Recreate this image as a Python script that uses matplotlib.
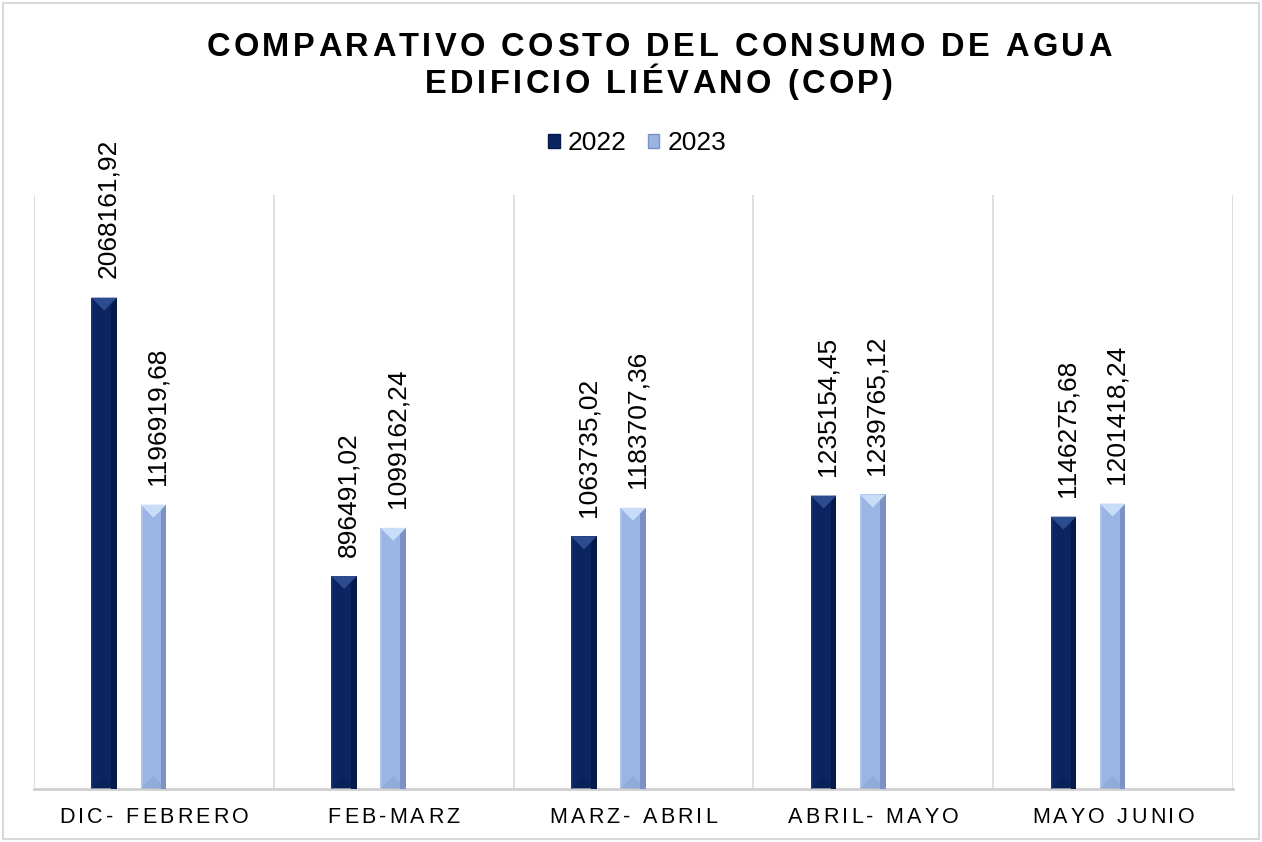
import numpy as np
import matplotlib
matplotlib.use('Agg')
import matplotlib.pyplot as plt
from matplotlib.patches import Polygon, Rectangle, Patch
from matplotlib.font_manager import FontProperties, findfont
from matplotlib.ft2font import FT2Font, LoadFlags

plt.rcParams['font.family'] = ['Liberation Sans', 'DejaVu Sans']

# datos del grafico
periodos = ['DIC- FEBRERO', 'FEB-MARZ', 'MARZ- ABRIL', 'ABRIL- MAYO', 'MAYO JUNIO']
costo_2022 = [2068161.92, 896491.02, 1063735.02, 1235154.45, 1146275.68]
costo_2023 = [1196919.68, 1099162.24, 1183707.36, 1239765.12, 1201418.24]
anios = ['2022', '2023']
titulo = ['COMPARATIVO COSTO DEL CONSUMO DE AGUA', 'EDIFICIO LIÉVANO (COP)']

W, H = 1262, 842
fig = plt.figure(figsize=(W / 100, H / 100), dpi=100)
ax = fig.add_axes([34 / W, 1 - 789 / H, (1233 - 34) / W, (789 - 195) / H])

# colores: base, brillo superior, lado oscuro
col22 = ('#0c2560', '#2d4c90', '#061a4a')
col23 = ('#9ab4e4', '#c9dcf8', '#7b93c3')

x = np.arange(len(periodos))
ancho = 0.107
b22 = ax.bar(x + 0.293, costo_2022, ancho, color=col22[0], zorder=2)
b23 = ax.bar(x + 0.498, costo_2023, ancho, color=col23[0], zorder=2)

ax.set_xlim(0, len(periodos))
ax.set_ylim(0, 2.5e6)
ax.set_xticks(np.arange(len(periodos) + 1))
ax.set_yticks([])
ax.tick_params(length=0, labelbottom=False)
ax.grid(axis='x', color='#d9d9d9', lw=1.2, zorder=0)
for s in ['top', 'left', 'right']:
    ax.spines[s].set_visible(False)
ax.spines['bottom'].set_color('#d0d0d0')
ax.spines['bottom'].set_linewidth(2)

# bisel de cada barra
alto_px = (789 - 195)
for barras, col in [(b22, col22), (b23, col23)]:
    for r in barras:
        x0, w, h = r.get_x(), r.get_width(), r.get_height()
        d = 13 / alto_px * 2.5e6
        ax.add_patch(Rectangle((x0 + 0.78 * w, 0), 0.22 * w, h, color=col[2], lw=0, zorder=3))
        ax.add_patch(Rectangle((x0, 0), 0.08 * w, h, color=col[1], alpha=0.35, lw=0, zorder=3))
        ax.add_patch(Polygon([(x0, h), (x0 + w, h), (x0 + w / 2, h - d)],
                             closed=True, color=col[1], lw=0, zorder=4))
        ax.add_patch(Polygon([(x0, 0), (x0 + w, 0), (x0 + w / 2, d)],
                             closed=True, color=col[2], alpha=0.3, lw=0, zorder=4))

# etiquetas de datos
for barras, vals in [(b22, costo_2022), (b23, costo_2023)]:
    for r, v in zip(barras, vals):
        ax.annotate(f"{v:.2f}".replace('.', ','),
                    (r.get_x() + r.get_width() / 2, r.get_height()),
                    xytext=(3, 14), textcoords='offset points',
                    rotation=90, ha='center', va='bottom', fontsize=19, color='#000000')


def texto_espaciado(xc, ybase, s, size, espacio, weight='normal'):
    prop = FontProperties(family='Liberation Sans', size=size, weight=weight)
    font = FT2Font(findfont(prop))
    font.set_size(size, 100)
    avances = []
    for c in s:
        g = font.load_char(ord(c), flags=LoadFlags.NO_HINTING)
        avances.append(g.linearHoriAdvance / 65536)
    total = sum(avances) + espacio * (len(s) - 1)
    xp = xc - total / 2
    for c, a in zip(s, avances):
        if c != ' ':
            fig.text((xp + a / 2) / W, 1 - ybase / H, c, ha='center', va='baseline',
                     fontproperties=prop, color='#000000')
        xp += a + espacio


texto_espaciado(659, 56, titulo[0], 23.5, 3.4, weight='bold')
texto_espaciado(659, 93, titulo[1], 23.5, 3.4, weight='bold')

centros = 34 + (1233 - 34) / len(periodos) * (x + 0.5)
for cx, p in zip(centros, periodos):
    texto_espaciado(cx, 823, p, 15.5, 3.2)

handles = [Patch(facecolor=col22[0], edgecolor=col22[2]),
           Patch(facecolor=col23[0], edgecolor=col23[2])]
fig.legend(handles, anios, loc='center', bbox_to_anchor=(637 / W, 1 - 143 / H),
           ncol=2, frameon=False, fontsize=19, handlelength=0.45, handleheight=0.45,
           handletextpad=0.3, columnspacing=0.8, borderpad=0)

fig.add_artist(Rectangle((3 / W, 3 / H), (W - 6) / W, (H - 6) / H, transform=fig.transFigure,
                         fill=False, edgecolor='#d9d9d9', lw=1.5))

fig.savefig('out.png', dpi=100)
